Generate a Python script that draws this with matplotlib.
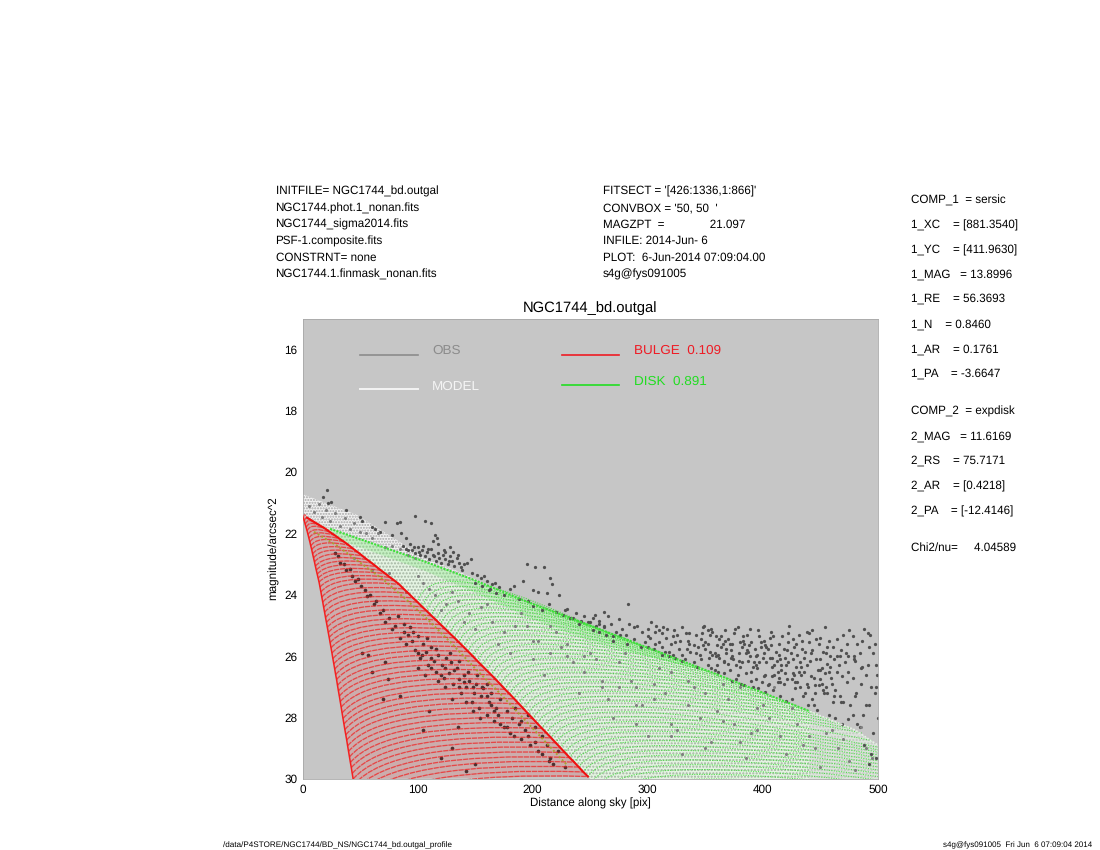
#!/usr/bin/env python3
"""Surface brightness profile of the NGC1744 bulge+disk fit."""

import matplotlib

matplotlib.use("Agg")
import matplotlib.pyplot as plt
from matplotlib.patches import PathPatch, Polygon
from matplotlib.path import Path

plt.rcParams["font.family"] = ["Liberation Sans", "DejaVu Sans"]
plt.rcParams["text.hinting"] = "no_hinting"

LEFT_LINES = [
    "INITFILE= NGC1744_bd.outgal",
    "NGC1744.phot.1_nonan.fits",
    "NGC1744_sigma2014.fits",
    "PSF-1.composite.fits",
    "CONSTRNT= none",
    "NGC1744.1.finmask_nonan.fits",
]
MIDDLE_LINES = [
    "FITSECT = '[426:1336,1:866]'",
    "CONVBOX = '50, 50  '",
    "MAGZPT  =              21.097",
    "INFILE: 2014-Jun- 6",
    "PLOT:  6-Jun-2014 07:09:04.00",
    "s4g@fys091005",
]
PARAM_LINES = [
    "COMP_1  = sersic", "1_XC    = [881.3540]", "1_YC    = [411.9630]",
    "1_MAG   = 13.8996", "1_RE    = 56.3693", "1_N    = 0.8460",
    "1_AR    = 0.1761", "1_PA    = -3.6647", "COMP_2  = expdisk",
    "2_MAG   = 11.6169", "2_RS    = 75.7171", "2_AR    = [0.4218]",
    "2_PA    = [-12.4146]", "Chi2/nu=     4.04589",
]
PARAM_Y = [200, 225, 250, 275, 299, 324, 349, 374, 411, 436, 461, 486, 511, 548]

# bulge isophote arcs: far end on the bright edge, near end on the steep edge
bulge_right_r = [4, 8, 12, 16, 20, 24, 28, 32, 36, 40, 44, 48, 52, 56, 60, 64, 68, 72, 76, 80, 84,
                 88, 92, 96, 100, 104, 108, 112, 116, 120, 124, 128, 132, 136, 140, 144, 148, 152,
                 156, 160, 164, 168, 172, 176, 180, 184, 188, 192, 196, 200, 204, 208, 212, 216,
                 220, 224, 228, 232, 236, 240, 244, 248]
bulge_right_mag = [21.49, 21.58, 21.67, 21.76, 21.85, 21.96, 22.06, 22.17, 22.27, 22.38, 22.50,
                   22.61, 22.73, 22.85, 22.96, 23.08, 23.20, 23.31, 23.43, 23.54, 23.66, 23.81,
                   23.95, 24.10, 24.24, 24.39, 24.53, 24.68, 24.82, 24.97, 25.11, 25.26, 25.40,
                   25.55, 25.70, 25.85, 26.00, 26.16, 26.31, 26.46, 26.61, 26.76, 26.92, 27.08,
                   27.23, 27.39, 27.55, 27.71, 27.87, 28.03, 28.19, 28.35, 28.50, 28.66, 28.82,
                   28.98, 29.14, 29.30, 29.45, 29.61, 29.77, 29.92]
bulge_left_r = [0.8, 1.6, 2.4, 3.2, 4.0, 4.8, 5.6, 6.4, 7.2, 8.0, 8.8, 9.6, 10.4, 11.2, 12.0, 12.8,
                13.6, 14.4, 15.2, 16.0, 16.8, 17.6, 18.4, 19.2, 20.0, 20.8, 21.6, 22.4, 23.2, 24.0,
                24.8, 25.6, 26.4, 27.2, 28.0, 28.8, 29.6, 30.4, 31.2, 32.0, 32.8, 33.6, 34.4, 35.2,
                36.0, 36.8, 37.6, 38.4, 39.2, 40.0, 40.8, 41.6, 42.4, 43.2, 44.0, 44.8, 45.6, 46.4,
                47.2, 48.0, 48.8, 49.6]
bulge_left_mag = [21.50, 21.60, 21.71, 21.81, 21.92, 22.04, 22.16, 22.28, 22.41, 22.53, 22.67,
                  22.80, 22.93, 23.07, 23.20, 23.33, 23.46, 23.59, 23.75, 23.91, 24.08, 24.24,
                  24.41, 24.57, 24.74, 24.90, 25.06, 25.23, 25.39, 25.56, 25.73, 25.90, 26.08,
                  26.25, 26.42, 26.60, 26.76, 26.95, 27.13, 27.30, 27.48, 27.66, 27.85, 28.03,
                  28.21, 28.39, 28.56, 28.73, 28.92, 29.10, 29.28, 29.46, 29.63, 29.82, 30.00,
                  30.18, 30.36, 30.53, 30.72, 30.90, 31.08, 31.27]

# disk isophote arcs
disk_left_r = [100, 104, 108, 112, 116, 120, 124, 128, 132, 136, 140, 144, 148, 152, 156, 160, 164,
               168, 172, 176, 180, 184, 188, 192, 196, 200, 204, 208, 212, 216, 220, 224, 228, 232,
               236, 240, 244, 248, 252, 256, 260, 264, 268, 272, 276, 280]
disk_left_mag = [24.24, 24.39, 24.53, 24.68, 24.82, 24.97, 25.11, 25.26, 25.40, 25.55, 25.70, 25.85,
                 26.00, 26.16, 26.31, 26.46, 26.61, 26.76, 26.92, 27.08, 27.23, 27.39, 27.55, 27.71,
                 27.87, 28.03, 28.19, 28.35, 28.50, 28.66, 28.82, 28.98, 29.14, 29.30, 29.45, 29.61,
                 29.77, 29.92, 30.08, 30.24, 30.40, 30.56, 30.71, 30.87, 31.03, 31.19]
disk_right_r = [238, 248, 257, 267, 276, 286, 295, 305, 314, 324, 333, 343, 352, 362, 371, 381, 390,
                400, 410, 419, 429, 438, 448, 457, 467, 476, 486, 495, 505, 514, 524, 533, 543, 552,
                562, 571, 581, 590, 600, 610, 619, 629, 638, 648, 657, 667]
disk_right_mag = [24.80, 25.00, 25.10, 25.25, 25.40, 25.50, 25.65, 25.80, 25.90, 26.05, 26.20, 26.35,
                  26.50, 26.60, 26.75, 26.90, 27.05, 27.20, 27.35, 27.50, 27.60, 27.75, 27.90, 28.05,
                  28.20, 28.35, 28.50, 28.75, 29.00, 29.15, 29.30, 29.45, 29.60, 29.75, 29.90, 30.05,
                  30.20, 30.35, 30.50, 30.65, 30.80, 30.95, 31.10, 31.25, 31.40, 31.55]

# outlines
model_top_r = [0, 47.5, 105, 143, 177.6, 200]
model_top_mag = [20.72, 21.4, 22.76, 23.36, 24.0, 24.3]
disk_top_r = [0, 24, 105, 148, 200, 250, 357, 441, 480, 500]
disk_top_mag = [21.4, 21.85, 22.9, 23.5, 24.3, 25.0, 26.55, 27.8, 28.4, 28.9]
disk_band_r = [24, 105, 148, 200, 250, 300]
disk_band_mag = [22.1, 23.2, 23.9, 24.8, 25.5, 26.0]
fade_r = [441, 480, 500, 500, 440]
fade_mag = [27.8, 28.4, 28.9, 30.0, 30.0]
overlap_r = [10, 30, 50, 70, 90, 110, 130, 150, 170, 190, 210, 230]
overlap_mag = [21.95, 22.4, 22.95, 23.5, 24.15, 24.85, 25.6, 26.4, 27.15, 27.95, 28.75, 29.55]

# observed pixels, upper envelope and left part
upper_obs_r = [18, 21, 22, 25, 38, 50, 52, 60, 63, 67, 72, 82, 85, 86, 90, 98, 106, 112, 115, 78,
               87, 90, 93, 95, 98, 100, 102, 104, 106, 108, 110, 112, 114, 116, 118, 120, 122, 124, 126, 128,
               130, 132, 134, 136, 138, 128, 118, 113, 117, 124, 140, 146, 152, 150, 156, 160, 163, 165, 168, 155,
               195, 202, 210, 215, 217, 223, 212, 205, 200, 184, 192, 188, 196, 200, 208, 214, 220, 226, 230, 235,
               238, 242, 245, 250, 254, 258, 262, 232, 228, 240,
               92, 97, 101, 105, 109, 113, 119, 123, 127, 131, 135, 139, 143, 147, 158, 162, 167, 171, 175, 180]
upper_obs_mag = [20.8, 20.6, 21.0, 20.97, 21.24, 21.46, 21.6, 21.8, 21.85, 21.95, 21.63, 21.67, 21.63, 22.0, 22.15, 21.43, 21.6, 21.67, 22.05, 22.05,
                 22.4, 22.5, 22.35, 22.55, 22.65, 22.45, 22.7, 22.55, 22.75, 22.6, 22.85, 22.5, 22.75, 22.9, 22.65, 22.95, 22.7, 22.85, 23.0, 22.75,
                 22.9, 23.05, 22.8, 22.95, 23.1, 22.45, 22.35, 22.25, 22.15, 22.6, 23.0, 22.85, 23.35, 23.6, 23.7, 23.55, 23.8, 23.65, 23.95, 23.45,
                 23.0, 23.1, 23.1, 23.45, 23.65, 24.0, 23.95, 23.9, 23.85, 23.7, 23.55, 24.15, 24.2, 24.35, 24.5, 24.3, 24.55, 24.65, 24.45, 24.75,
                 24.6, 24.85, 24.7, 24.9, 24.65, 24.95, 25.0, 24.75, 24.5, 24.95,
                 22.55, 22.45, 22.6, 22.4, 22.5, 22.7, 22.8, 22.55, 22.9, 22.6, 22.7, 23.2, 22.95, 23.3, 23.4, 23.85, 23.6, 23.75, 24.0, 23.8]

# observed pixels above the disk on the right
outer_obs_r = [248, 252, 255, 258, 262, 265, 268, 272, 275, 278, 281, 284, 288, 291, 295, 298, 300, 283, 270, 262,
               302, 305, 307, 310, 312, 315, 317, 320, 322, 325, 327, 330, 332, 335, 337, 340, 303, 313, 323, 333,
               342, 344, 346, 348, 350, 352, 354, 356, 358, 360, 362, 364, 366, 368, 370, 343, 349, 355, 361, 367,
               371, 373, 375, 377, 379, 381, 383, 385, 387, 389, 391, 393, 395, 397, 399, 372, 378, 384, 390, 396,
               401, 403, 405, 407, 409, 411, 413, 415, 417, 419, 421, 423, 425, 427, 429, 402, 408, 414, 420, 426,
               431, 433, 435, 437, 439, 441, 443, 445, 447, 449, 451, 453, 455, 457, 459, 432, 438, 444, 450, 456,
               461, 464, 467, 470, 473, 476, 479, 482, 485, 488, 491, 494, 497, 499, 463, 469, 475, 481, 487, 493,
               382, 386, 390, 394, 398, 402, 406, 410, 414, 418, 422, 426, 430, 434, 438, 442, 446, 450, 454, 458,
               345, 352, 359, 366, 373, 380, 387, 394, 401, 408, 415, 422, 429, 436, 443, 450, 457, 464, 471, 478,
               478, 484, 490, 496, 500, 488, 494, 470, 474, 482, 498, 492,
               350, 356, 362, 368, 374, 380, 386, 392, 398, 404, 410, 416, 422, 428, 434, 440, 446, 452, 458, 464,
               355, 361, 367, 373, 379, 385, 391, 397, 403, 409, 415, 421, 427, 433, 439, 445, 451, 457, 463, 469,
               310, 316, 322, 328, 334, 340, 346, 352, 358, 364, 370, 376, 382, 388, 394, 400, 406, 412, 418, 424,
               430, 436, 442, 448, 454, 460, 466, 472, 478, 484, 490, 496, 474, 480, 486, 492, 498, 468, 462, 456,
               300, 306, 312, 318, 324, 330, 336, 342, 348, 354, 360, 366, 372, 378, 384, 390, 396, 402, 408, 414,
               420, 426, 432, 438, 444, 450, 456, 462, 468, 474, 480, 486, 492, 498, 347, 353, 359, 365, 371, 377,
               383, 389, 395, 401, 407, 413, 419, 425, 431, 437, 443, 449, 455, 461, 467, 473, 479, 485, 491, 497,
               252, 258, 264, 270, 276, 282, 288, 294, 300, 306, 312, 318, 324, 330, 336, 404, 416, 428, 440, 452]
outer_obs_mag = [24.9, 24.75, 25.0, 24.85, 25.05, 24.7, 24.95, 25.2, 24.8, 25.1, 25.3, 24.95, 25.45, 25.0, 25.2, 25.55, 25.1, 24.3, 25.35, 24.55,
                 25.4, 25.75, 25.0, 25.55, 25.25, 25.85, 25.1, 25.6, 25.95, 25.3, 25.75, 25.05, 26.1, 25.5, 25.85, 26.2, 24.9, 25.05, 25.15, 25.25,
                 25.3, 25.7, 26.1, 25.05, 25.55, 26.3, 25.85, 25.2, 26.45, 25.65, 26.05, 25.35, 26.55, 25.9, 26.25, 26.35, 25.0, 26.4, 26.5, 25.15,
                 25.6, 26.8, 25.25, 26.3, 25.9, 26.9, 25.5, 26.55, 26.15, 25.1, 27.0, 25.75, 26.4, 25.35, 26.85, 26.05, 25.05, 26.95, 25.55, 27.05,
                 25.5, 26.2, 26.9, 25.2, 27.1, 25.85, 26.5, 27.3, 25.35, 26.05, 26.75, 25.0, 27.4, 25.7, 26.35, 27.15, 26.65, 25.95, 27.45, 26.1,
                 25.3, 26.6, 27.3, 25.85, 27.6, 26.15, 25.15, 26.95, 27.75, 25.6, 26.4, 27.2, 25.9, 27.9, 26.7, 27.0, 26.9, 27.6, 25.4, 26.25,
                 25.7, 26.5, 27.3, 25.3, 26.85, 27.6, 26.1, 25.6, 26.9, 25.1, 26.3, 27.0, 25.6, 26.6, 28.0, 28.2, 25.15, 27.2, 27.9, 25.3,
                 26.2, 25.8, 26.5, 26.0, 25.7, 26.6, 25.4, 26.3, 25.6, 26.9, 25.55, 26.55, 25.95, 25.5, 26.3, 26.65, 25.45, 26.75, 25.05, 26.0,
                 25.95, 25.6, 25.35, 26.2, 26.0, 25.55, 25.85, 26.75, 25.9, 26.05, 26.1, 26.2, 25.6, 26.5, 25.8, 26.1, 26.5, 26.0, 26.2, 26.7,
                 27.9, 28.3, 27.6, 28.5, 28.0, 28.9, 29.2, 27.5, 28.05, 28.2, 29.3, 29.5,
                 25.75, 25.95, 25.45, 25.75, 26.1, 26.35, 25.3, 26.2, 25.55, 25.75, 26.6, 26.45, 25.25, 26.85, 25.75, 25.55, 26.1, 25.85, 26.35, 25.45,
                 25.1, 25.95, 25.5, 25.6, 26.15, 25.9, 26.35, 26.2, 25.7, 25.35, 26.85, 25.8, 26.6, 26.35, 27.0, 27.2, 26.9, 25.5, 27.1, 26.65,
                 25.15, 25.4, 25.35, 25.5, 25.75, 25.65, 25.45, 25.15, 25.9, 25.7, 25.45, 25.1, 25.7, 25.65, 26.3, 26.05, 26.05, 26.15, 25.75, 25.9,
                 26.85, 26.05, 25.9, 26.45, 26.55, 26.9, 26.3, 25.9, 25.35, 25.9, 26.6, 25.9, 26.5, 27.3, 26.35, 27.6, 27.0, 27.5, 27.3, 27.2,
                 25.35, 25.6, 25.7, 25.85, 25.55, 25.95, 25.25, 25.9, 25.65, 25.3, 26.3, 26.15, 25.8, 26.6, 25.6, 26.8, 25.15, 25.65, 26.35, 26.7,
                 26.3, 25.45, 26.2, 25.2, 26.7, 26.45, 25.7, 26.1, 25.8, 26.0, 26.15, 25.5, 25.7, 26.3, 25.25, 26.05, 26.0, 25.6, 26.45, 26.75,
                 25.35, 26.0, 25.95, 26.65, 25.65, 26.85, 26.55, 26.75, 26.5, 27.2, 27.4, 26.95, 27.0, 27.5, 26.0, 25.6, 26.0, 26.4, 25.25, 27.2,
                 25.15, 25.2, 25.3, 25.5, 25.3, 25.6, 25.05, 25.7, 25.7, 25.2, 25.95, 26.0, 26.05, 26.15, 25.6, 26.95, 26.3, 27.05, 25.25, 27.1]

# observed pixels seen through the bulge
bulge_obs_r = [28, 31, 33, 36, 38, 41, 43, 46, 48, 51, 54, 56, 59, 62, 64, 67, 70, 72, 75, 78,
               80, 83, 85, 88, 90, 93, 95, 98, 100, 102, 105, 107, 109, 112, 114, 116, 118, 121, 123, 125,
               127, 129, 131, 134, 136, 138, 140, 142, 145, 147, 149, 151, 153, 155, 157, 160, 162, 164, 166, 168,
               170, 172, 175, 178, 180, 182, 185, 188, 190, 193, 196, 198, 202, 205, 208, 212, 215, 218, 222, 228,
               52, 57, 60, 72, 74, 85, 105, 120, 70, 130, 150, 110, 135, 142,
               88, 92, 96, 100, 104, 108, 112, 116, 120, 124, 128, 132, 136, 140, 144, 148, 152, 156, 160, 164,
               100, 106, 112, 118, 124, 130, 136, 142, 148, 154, 160, 166, 172, 178, 184, 190, 196, 202, 208, 214]
bulge_obs_mag = [22.65, 22.75, 22.95, 23.0, 23.2, 23.15, 23.4, 23.55, 23.5, 23.7, 23.85, 24.05, 24.0, 24.3, 24.2, 24.6, 24.5, 24.9, 24.75, 25.1,
                 25.0, 24.7, 25.4, 25.2, 25.6, 25.05, 25.5, 25.8, 25.35, 26.05, 25.6, 25.85, 26.3, 25.7, 26.15, 26.5, 25.95, 26.3, 26.7, 26.05,
                 26.55, 26.2, 26.9, 26.4, 26.75, 27.2, 26.6, 27.0, 26.8, 27.5, 27.2, 26.9, 27.7, 27.3, 27.05, 27.9, 27.5, 27.2, 28.1, 27.7,
                 27.9, 27.4, 28.3, 27.8, 28.5, 28.0, 27.7, 28.2, 28.7, 28.4, 27.9, 28.9, 28.3, 29.1, 28.6, 28.9, 29.3, 29.5, 29.1, 29.6,
                 25.9, 25.95, 26.5, 26.2, 26.75, 27.3, 28.4, 29.3, 27.4, 29.0, 29.5, 27.8, 28.3, 29.75,
                 24.95, 25.3, 25.2, 25.9, 25.95, 25.4, 26.05, 25.75, 26.6, 26.4, 25.9, 26.45, 26.15, 26.85, 26.5, 27.0, 26.6, 27.0, 26.9, 27.6,
                 26.4, 26.6, 26.4, 26.8, 27.0, 27.4, 27.0, 27.5, 27.8, 28.0, 27.3, 27.8, 28.2, 28.3, 28.6, 28.1, 28.6, 28.8, 29.2, 29.4]

# observed pixels seen through the model and the disk
inner_obs_r = [6, 10, 14, 17, 20, 24, 28, 33, 37, 41, 45, 50, 55, 60, 66, 72, 78, 85, 92, 98,
               45, 60, 75, 90, 105, 120, 135, 150, 165, 180, 195, 210, 225, 240, 255, 270, 285, 300, 315, 330,
               100, 115, 130, 145, 160, 175, 190, 205, 220, 235, 250, 265, 280, 295, 310, 325, 340, 355, 370, 385,
               400, 415, 430, 445, 460, 475, 490, 345, 360, 375, 390, 405, 420, 435, 450, 465, 480, 495, 320, 290,
               110, 125, 140, 155, 170, 185, 200, 215, 230, 245, 260, 275, 290, 305, 320, 335, 350, 365, 380, 395,
               200, 215, 230, 245, 260, 275, 290, 305, 320, 335, 350, 365, 380, 395, 410, 425, 440, 455, 470, 485]
inner_obs_mag = [21.1, 21.3, 21.05, 21.45, 21.25, 21.6, 21.35, 21.75, 21.5, 21.85, 21.65, 21.95, 22.0, 22.15, 22.0, 22.45, 22.4, 22.5, 22.7, 22.8,
                 22.8, 23.2, 23.3, 23.9, 23.6, 24.5, 24.2, 25.1, 24.9, 25.9, 25.0, 26.6, 25.7, 27.2, 26.1, 28.0, 26.8, 28.6, 27.2, 29.2,
                 23.4, 24.0, 23.9, 24.6, 24.3, 25.2, 24.6, 25.5, 25.2, 26.2, 25.9, 27.4, 25.9, 27.6, 26.4, 28.4, 27.0, 28.8, 27.4, 29.3,
                 27.6, 28.6, 28.2, 29.0, 28.4, 29.4, 29.0, 28.0, 27.8, 28.2, 28.5, 28.0, 29.2, 28.9, 29.6, 29.0, 29.7, 29.3, 26.5, 27.0,
                 23.8, 24.3, 24.9, 24.4, 25.6, 25.0, 26.1, 25.0, 26.0, 26.5, 26.8, 26.2, 28.2, 27.4, 28.2, 27.6, 27.2, 28.1, 27.0, 28.4,
                 25.5, 25.9, 25.6, 26.0, 27.0, 27.0, 27.6, 26.9, 28.6, 26.8, 29.0, 26.9, 28.8, 27.7, 27.0, 27.7, 28.6, 28.5, 28.7, 28.3]

W, H = 1100, 850
BG = "#c6c6c6"


def fig_text(fig, x, y, s, **kw):
    fig.text(x / W, 1 - y / H, s, va="center", **kw)


def arc(x0, y0, xc, yc, x1, y1, **kw):
    return PathPatch(Path([(x0, y0), (xc, yc), (x1, y1)], [Path.MOVETO, Path.CURVE3, Path.CURVE3]),
                     fill=False, **kw)


def main():
    fig = plt.figure(figsize=(11, 8.5), dpi=100)
    ax = fig.add_axes([302.5 / W, 1 - 779 / H, 575.5 / W, 460.5 / H], facecolor=BG)
    ax.set_xlim(0, 500)
    ax.set_ylim(30, 15)

    top_outline = list(zip(model_top_r, model_top_mag))
    disk_outline = list(zip(disk_top_r, disk_top_mag))
    edge_outline = list(zip(bulge_right_r, bulge_right_mag))
    left_outline = list(zip(bulge_left_r, bulge_left_mag))

    # model (white) wedge, then the disk wedge under it
    white = top_outline + disk_outline[:5][::-1]
    ax.add_patch(Polygon(white, closed=True, facecolor="#f2f2f2", edgecolor="#a8a8a8",
                         hatch="......", linewidth=0, zorder=1))
    wedge = disk_outline + [(500, 30)] + [(250, 30)] + edge_outline[::-1] + [(0, 21.4)]
    ax.add_patch(Polygon(wedge, closed=True, facecolor="#e4f3e2", edgecolor="#a4b4a2",
                         hatch=".....", linewidth=0, zorder=1))
    ax.add_patch(Polygon(list(zip(disk_top_r[1:7], disk_top_mag[1:7])) + list(zip(disk_band_r, disk_band_mag))[::-1],
                         closed=True, facecolor="#7ce878", alpha=0.3, linewidth=0, zorder=1.2))
    ax.add_patch(Polygon(list(zip(fade_r, fade_mag)), closed=True, facecolor="#d8d8d8", alpha=0.55,
                         linewidth=0, zorder=1.3))

    ax.plot(disk_top_r[1:8], disk_top_mag[1:8], color="#3ee03a", lw=1.5, ls=(0, (1, 0.6)), zorder=3)
    ax.plot(disk_top_r[7:], disk_top_mag[7:], color="#e8f2e6", lw=1.2, ls=(0, (1, 1)), zorder=3)

    for x0, y0, x1, y1 in zip(disk_left_r, disk_left_mag, disk_right_r, disk_right_mag):
        xc = x0 + 0.08 * (x1 - x0)
        yc = min(y0, y1) - 1.6
        ax.add_patch(arc(x0, y0, xc, yc, x1, y1, edgecolor="#30e02a", lw=0.8, alpha=0.8,
                         linestyle=(0, (1, 1.2)), zorder=2))

    # red wedge sits on top of the green one
    ax.add_patch(Polygon(edge_outline + [(44, 30)] + left_outline[:54][::-1], closed=True,
                         facecolor=BG, linewidth=0, zorder=2.1))
    ax.add_patch(Polygon(edge_outline + [(44, 30)] + left_outline[:54][::-1], closed=True,
                         facecolor="#ff0000", alpha=0.12, linewidth=0, zorder=2.2))

    ax.scatter(outer_obs_r, outer_obs_mag, s=5.5, marker="o", color="#505050", linewidths=0, zorder=2.5)
    ax.scatter(upper_obs_r, upper_obs_mag, s=5.5, marker="o", color="#505050", linewidths=0, zorder=2.5)
    ax.scatter(inner_obs_r, inner_obs_mag, s=5, marker="o", color="#808080", linewidths=0, zorder=2.5)
    ax.scatter(bulge_obs_r, bulge_obs_mag, s=7, marker="o", color="#4a3030", linewidths=0, zorder=2.5)

    for x0, y0, x1, y1 in zip(bulge_left_r, bulge_left_mag, bulge_right_r, bulge_right_mag):
        # dome: rises fast off the steep edge, then flattens
        xc = x0 + 0.18 * (x1 - x0)
        yc = y1 - 0.2
        ax.add_patch(arc(x0, y0, xc, yc, x1, y1, edgecolor="#f02020", lw=0.95, alpha=0.72,
                         linestyle=(0, (4, 0.6)), zorder=4))

    ax.plot(overlap_r, overlap_mag, color="#a8a030", lw=1.4, ls=(0, (1, 1.2)), zorder=4.5)
    ax.plot(bulge_right_r, bulge_right_mag, color="#f01010", lw=1.5, zorder=5)
    ax.plot(bulge_left_r[:55], bulge_left_mag[:55], color="#f52020", lw=1.1, zorder=5)

    # line key inside the frame
    ax.plot([50, 100], [16.19, 16.19], color="#8c8c8c", lw=1.2)
    ax.plot([50, 100], [17.31, 17.31], color="#f4f4f4", lw=1.4)
    ax.plot([225.6, 275], [16.19, 16.19], color="#ee1c25", lw=1.2)
    ax.plot([225.6, 275], [17.17, 17.17], color="#22dd22", lw=1.2)
    key_font = 9.7
    ax.text(112.5, 16.05, "OBS", color="#8c8c8c", fontsize=key_font, va="center")
    ax.text(112.5, 17.2, "MODEL", color="#f4f4f4", fontsize=key_font, va="center")
    ax.text(288, 16.05, "BULGE  0.109", color="#ee1c25", fontsize=key_font, va="center")
    ax.text(288, 17.05, "DISK  0.891", color="#22dd22", fontsize=key_font, va="center")

    ax.set_xticks([0, 100, 200, 300, 400, 500])
    ax.set_yticks([16, 18, 20, 22, 24, 26, 28, 30])
    ax.tick_params(length=0, labelsize=8.5, pad=3.5)
    for spine in ax.spines.values():
        spine.set_color("#a8a8a8")
        spine.set_linewidth(0.6)

    fig_text(fig, 590, 308.5, "NGC1744_bd.outgal", fontsize=10.6, ha="center")
    fig_text(fig, 590, 803, "Distance along sky [pix]", fontsize=8.3, ha="center")
    fig.text(274 / W, 1 - 548 / H, "magnitude/arcsec^2", fontsize=8.35, rotation=90, ha="center", va="center")

    for i, (left, middle) in enumerate(zip(LEFT_LINES, MIDDLE_LINES)):
        y = 191.8 + i * 16.45
        fig_text(fig, 275.5, y, left, fontsize=8.4)
        fig_text(fig, 603, y, middle, fontsize=8.4)
    for y, line in zip(PARAM_Y, PARAM_LINES):
        fig_text(fig, 911, y, line, fontsize=8.4)

    fig_text(fig, 223, 845, "/data/P4STORE/NGC1744/BD_NS/NGC1744_bd.outgal_profile", fontsize=5.85)
    fig_text(fig, 1092, 845, "s4g@fys091005  Fri Jun  6 07:09:04 2014", fontsize=5.75, ha="right")

    fig.savefig("out.png", dpi=100)


if __name__ == "__main__":
    main()
